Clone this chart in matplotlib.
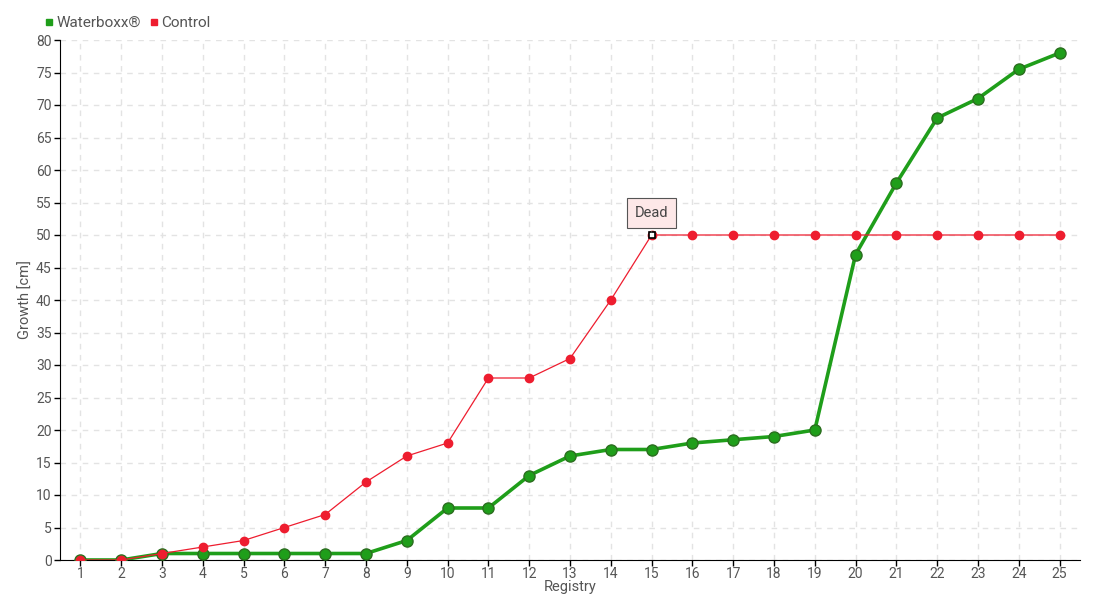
import matplotlib.pyplot as plt

plt.rcParams['font.family'] = ['Roboto', 'DejaVu Sans']

# registry numbers and growth (cm)
registry = list(range(1, 26))
waterboxx = [0, 0, 1, 1, 1, 1, 1, 1, 3, 8, 8, 13, 16, 17, 17, 18, 18.5, 19, 20,
             47, 58, 68, 71, 75.5, 78]
control = [0, 0, 1, 2, 3, 5, 7, 12, 16, 18, 28, 28, 31, 40, 50, 50, 50, 50, 50,
           50, 50, 50, 50, 50, 50]
dead_at = 15

green = '#1f9e1a'
red = '#ee1d2f'
txt = '#555555'

fig = plt.figure(figsize=(11, 6), dpi=100)
ax = fig.add_axes([60 / 1100, 40 / 600, 1020 / 1100, 520 / 600])

ax.plot(registry, waterboxx, color=green, lw=2.6, marker='o', ms=8,
        mfc=green, mec='#2b6e1f', mew=1, zorder=3, label='Waterboxx®')
ax.plot(registry, control, color=red, lw=0.9, marker='o', ms=6,
        mfc=red, mec=red, zorder=4, label='Control')

# highlighted point + tooltip
i = registry.index(dead_at)
ax.plot(dead_at, control[i], marker='s', ms=5, mfc='white', mec='black',
        mew=1.2, zorder=6)
ax.annotate('Dead', xy=(dead_at, control[i]), xytext=(0, 15.5),
            textcoords='offset points', ha='center', va='center',
            fontsize=10.5, color='#444444',
            bbox=dict(boxstyle='square,pad=0.55', fc='#fde8e8', ec='#555555', lw=0.8),
            arrowprops=dict(arrowstyle='-', color='#555555', lw=0.8),
            zorder=7)

ax.set_xlim(0.5, 25.5)
ax.set_ylim(0, 80)
ax.set_xticks(registry)
ax.set_yticks(range(0, 81, 5))
ax.grid(True, color='#e3e3e3', ls=(0, (4, 4)), lw=1)
ax.set_axisbelow(True)
for s in ['top', 'right']:
    ax.spines[s].set_visible(False)
ax.spines['left'].set_color('black')
ax.spines['bottom'].set_color('black')
ax.tick_params(colors=txt, labelsize=10, length=4, width=1, pad=2)
ax.tick_params(axis='x', pad=1)
ax.tick_params(axis='both', color='black')

ax.set_xlabel('Registry', color=txt, fontsize=10.5)
ax.set_ylabel('Growth [cm]', color=txt, fontsize=10.5)
ax.xaxis.set_label_coords(0.5, -27 / 520)
ax.yaxis.set_label_coords(-34 / 1020, 0.5)
ax.xaxis.label.set_va('center')
ax.yaxis.label.set_va('center')

leg = fig.legend(loc='upper left', bbox_to_anchor=(45 / 1100, 1 - 16 / 600),
                 ncol=2, frameon=False, fontsize=11, handlelength=0.5,
                 handletextpad=0.25, columnspacing=0.6, borderaxespad=0,
                 borderpad=0)
for h, c in zip(leg.legend_handles, [green, red]):
    h.set_linestyle('none')
    h.set_marker('s')
    h.set_markersize(4.5)
    h.set_markerfacecolor(c)
    h.set_markeredgecolor(c)
for t in leg.get_texts():
    t.set_color(txt)

fig.savefig('out.png', dpi=100)
